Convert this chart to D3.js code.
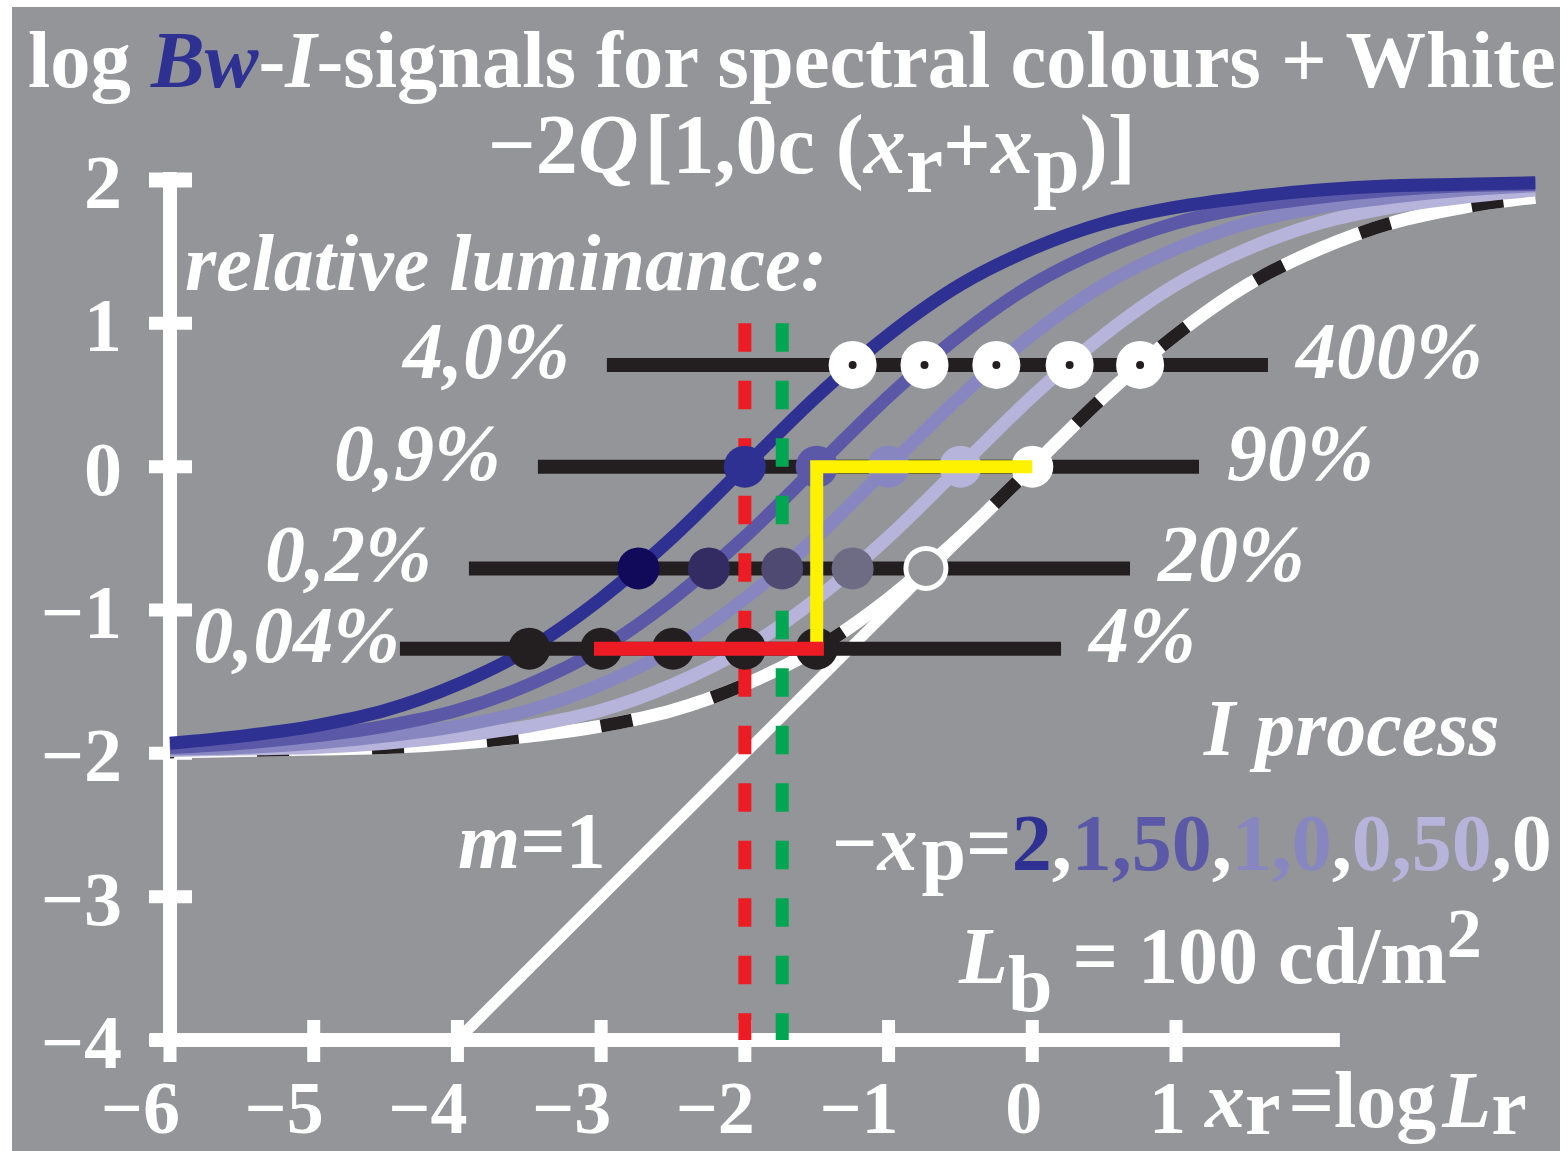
<!DOCTYPE html>
<html>
<head>
<meta charset="utf-8">
<script src="https://cdn.jsdelivr.net/npm/d3@7"></script>
<style>
  body { margin: 0; background: #fff; }
  text { font-family: "Liberation Serif", "Times New Roman", serif; fill: #fff; }
</style>
</head>
<body>
<div id="chart"></div>
<script>
const WIDTH = 1567;
const HEIGHT = 1151;
const BG = "#939598";

// axis ticks
const xTicks = [-6, -5, -4, -3, -2, -1, 0, 1];
const yTicks = [-4, -3, -2, -1, 0, 1, 2];

// white (xp = 0) curve, other curves are the same curve shifted
const baseX = [-6, -5.5, -5, -4.5, -4, -3.5, -3, -2.5, -2, -1.5, -1, -0.5, 0,
               0.5, 1, 1.5, 2, 2.5, 3, 3.5, 4, 4.5, 5, 5.5];
const baseY = [-1.99, -1.98, -1.97, -1.96, -1.93, -1.88, -1.81, -1.70, -1.52, -1.27, -0.92, -0.49, 0,
               0.49, 0.92, 1.27, 1.52, 1.70, 1.81, 1.88, 1.93, 1.96, 1.97, 1.98];
const shifts = [2, 1.5, 1, 0.5, 0];
const curveColors = ["#2e3192", "#5b59a7", "#8886c0", "#b6b4da", "#ffffff"];

// horizontal luminance rows
const rowY = [0.71, 0, -0.71, -1.27];
const rowStart = [-2.96, -3.44, -3.92, -4.40];
const rowEnd = [1.64, 1.16, 0.68, 0.20];
const rowLeftLabels = ["4,0%", "0,9%", "0,2%", "0,04%"];
const rowLeftLabelX = [-3.22, -3.70, -4.18, -4.40];
const rowRightLabels = ["400%", "90%", "20%", "4%"];
const rowPointX = [
    [-1.25, -0.75, -0.25, 0.26, 0.75],
    [-2, -1.5, -1, -0.5, 0],
    [-2.74, -2.25, -1.74, -1.25, -0.74],
    [-3.5, -3, -2.5, -2, -1.5]
];
const rowPointColors = [
    ["dot", "dot", "dot", "dot", "dot"],
    ["#2e3192", "#5b59a7", "#8886c0", "#b6b4da", "#ffffff"],
    ["#11095a", "#332c62", "#4e4a72", "#6e6b85", "ring"],
    ["#231f20", "#231f20", "#231f20", "#231f20", "#231f20"]
];

// m=1 line and markers
const lineX = [-4, -0.45];
const redDashX = -2;
const greenDashX = -1.74;
const dashYRange = [1, -4];
const redSolidX = [-3.05, -1.45];
const redSolidY = -1.27;
const yellowX = [-1.5, -1.5, 0];
const yellowY = [-1.27, 0, 0];

var svg = d3.select("#chart")
    .append("svg")
    .attr("width", WIDTH)
    .attr("height", HEIGHT);

svg.append("rect")
    .attr("x", 12).attr("y", 7)
    .attr("width", 1548).attr("height", 1144)
    .attr("fill", BG);

var x_scale = d3.scaleLinear().domain([-6, 1]).range([170, 1176]);
var y_scale = d3.scaleLinear().domain([-4, 2]).range([1040, 180]);

// axes
svg.append("line")
    .attr("x1", 150).attr("x2", x_scale(2.14))
    .attr("y1", y_scale(-4)).attr("y2", y_scale(-4))
    .attr("stroke", "#fff").attr("stroke-width", 14);
svg.append("line")
    .attr("x1", x_scale(-6)).attr("x2", x_scale(-6))
    .attr("y1", y_scale(2) - 8).attr("y2", y_scale(-4))
    .attr("stroke", "#fff").attr("stroke-width", 14);

svg.selectAll(".xtick")
    .data(xTicks)
    .enter()
    .append("line")
    .attr("class", "xtick")
    .attr("x1", d => x_scale(d)).attr("x2", d => x_scale(d))
    .attr("y1", 1020).attr("y2", 1062)
    .attr("stroke", "#fff").attr("stroke-width", 13);

svg.selectAll(".ytick")
    .data(yTicks)
    .enter()
    .append("line")
    .attr("class", "ytick")
    .attr("x1", 149).attr("x2", 192)
    .attr("y1", d => y_scale(d)).attr("y2", d => y_scale(d))
    .attr("stroke", "#fff").attr("stroke-width", d => d === 2 ? 15 : 13);

function fmt(d) {
    return d < 0 ? "\u2212" + Math.abs(d) : String(d);
}

svg.selectAll(".xlabel")
    .data(xTicks)
    .enter()
    .append("text")
    .attr("class", "xlabel")
    .attr("x", d => x_scale(d) + 10)
    .attr("y", 1133)
    .attr("text-anchor", "end")
    .attr("font-size", 74)
    .attr("font-weight", "bold")
    .text(fmt);

svg.selectAll(".ylabel")
    .data(yTicks)
    .enter()
    .append("text")
    .attr("class", "ylabel")
    .attr("x", 122)
    .attr("y", d => y_scale(d) + 28)
    .attr("text-anchor", "end")
    .attr("font-size", 76)
    .attr("font-weight", "bold")
    .text(fmt);

// curves
var line = d3.line()
    .x(d => x_scale(d[0]))
    .y(d => y_scale(d[1]))
    .curve(d3.curveMonotoneX);

function curvePoints(s) {
    var pts = [];
    baseX.forEach((bx, i) => {
        var xr = bx - s;
        if (xr >= -6 && xr <= 3.5) pts.push([xr, baseY[i]]);
    });
    return pts;
}

// white curve with black dashes drawn first, blue last (on top)
for (var k = shifts.length - 1; k >= 0; k--) {
    var pts = curvePoints(shifts[k]);
    svg.append("path")
        .attr("d", line(pts))
        .attr("fill", "none")
        .attr("stroke", curveColors[k])
        .attr("stroke-width", 13);
    if (k === shifts.length - 1) {
        svg.append("path")
            .attr("d", line(pts))
            .attr("fill", "none")
            .attr("stroke", "#231f20")
            .attr("stroke-width", 13)
            .attr("stroke-dasharray", "32 83")
            .attr("stroke-dashoffset", 28);
        // m=1 straight line
        svg.append("line")
            .attr("x1", x_scale(lineX[0])).attr("y1", y_scale(lineX[0]))
            .attr("x2", x_scale(lineX[1])).attr("y2", y_scale(lineX[1]))
            .attr("stroke", "#fff").attr("stroke-width", 11);
    }
}

// luminance rows
svg.selectAll(".row")
    .data(rowY)
    .enter()
    .append("line")
    .attr("class", "row")
    .attr("x1", (d, i) => x_scale(rowStart[i]))
    .attr("x2", (d, i) => x_scale(rowEnd[i]))
    .attr("y1", d => y_scale(d)).attr("y2", d => y_scale(d))
    .attr("stroke", "#231f20").attr("stroke-width", 14);

// dashed verticals
[[redDashX, "#ed1c24"], [greenDashX, "#00a651"]].forEach(v => {
    svg.append("line")
        .attr("x1", x_scale(v[0])).attr("x2", x_scale(v[0]))
        .attr("y1", y_scale(dashYRange[0])).attr("y2", y_scale(dashYRange[1]))
        .attr("stroke", v[1]).attr("stroke-width", 13)
        .attr("stroke-dasharray", "28.5 29");
});

// points on rows
rowY.forEach((ry, r) => {
    rowPointX[r].forEach((px, j) => {
        var c = rowPointColors[r][j];
        var cx = x_scale(px), cy = y_scale(ry);
        if (c === "dot") {
            svg.append("circle").attr("cx", cx).attr("cy", cy).attr("r", 24).attr("fill", "#fff");
            svg.append("circle").attr("cx", cx).attr("cy", cy).attr("r", 4).attr("fill", "#231f20");
        } else if (c === "ring") {
            svg.append("circle").attr("cx", cx).attr("cy", cy).attr("r", 20)
                .attr("fill", BG).attr("stroke", "#fff").attr("stroke-width", 5);
        } else {
            svg.append("circle").attr("cx", cx).attr("cy", cy).attr("r", 21).attr("fill", c);
        }
    });
});

// yellow and red guides
svg.append("path")
    .attr("d", d3.line()(yellowX.map((v, i) => [x_scale(v), y_scale(yellowY[i])])))
    .attr("fill", "none")
    .attr("stroke", "#fff200")
    .attr("stroke-width", 13);
svg.append("line")
    .attr("x1", x_scale(redSolidX[0])).attr("x2", x_scale(redSolidX[1]))
    .attr("y1", y_scale(redSolidY)).attr("y2", y_scale(redSolidY))
    .attr("stroke", "#ed1c24").attr("stroke-width", 14);

// row labels
svg.selectAll(".lleft")
    .data(rowLeftLabels)
    .enter()
    .append("text")
    .attr("class", "lleft")
    .attr("x", (d, i) => x_scale(rowLeftLabelX[i]))
    .attr("y", (d, i) => y_scale(rowY[i]) + 13)
    .attr("text-anchor", "end")
    .attr("font-size", 80)
    .attr("font-weight", "bold")
    .attr("font-style", "italic")
    .text(d => d);

svg.selectAll(".lright")
    .data(rowRightLabels)
    .enter()
    .append("text")
    .attr("class", "lright")
    .attr("x", (d, i) => x_scale(rowEnd[i]) + 28)
    .attr("y", (d, i) => y_scale(rowY[i]) + 13)
    .attr("font-size", 80)
    .attr("font-weight", "bold")
    .attr("font-style", "italic")
    .text(d => d);

// title
var t1 = svg.append("text")
    .attr("x", 28).attr("y", 87)
    .attr("font-size", 80.5).attr("font-weight", "bold");
t1.append("tspan").text("log ");
t1.append("tspan").attr("font-style", "italic").style("fill", "#2e3192").text("Bw");
t1.append("tspan").text("-");
t1.append("tspan").attr("font-style", "italic").text("I");
t1.append("tspan").text("-signals for spectral colours + White");

var t2 = svg.append("text")
    .attr("x", 488).attr("y", 173)
    .attr("font-size", 84).attr("font-weight", "bold");
t2.append("tspan").text("\u22122");
t2.append("tspan").attr("font-style", "italic").text("Q");
t2.append("tspan").attr("dx", 6).text("[1,0c (");
t2.append("tspan").attr("font-style", "italic").text("x");
t2.append("tspan").attr("dy", 19).text("r");
t2.append("tspan").attr("dy", -19).text("+");
t2.append("tspan").attr("font-style", "italic").text("x");
t2.append("tspan").attr("dy", 19).text("p");
t2.append("tspan").attr("dy", -19).text(")]");

svg.append("text")
    .attr("x", 185).attr("y", 290)
    .attr("font-size", 80).attr("font-weight", "bold").attr("font-style", "italic")
    .text("relative luminance:");

svg.append("text")
    .attr("x", 1204).attr("y", 755)
    .attr("font-size", 80).attr("font-weight", "bold").attr("font-style", "italic")
    .text("I process");

var m1 = svg.append("text")
    .attr("x", 458).attr("y", 868)
    .attr("font-size", 80).attr("font-weight", "bold");
m1.append("tspan").attr("font-style", "italic").text("m");
m1.append("tspan").text("=1");

// -xp legend, coloured like the curves
const xpParts = ["2", ",", "1,50", ",", "1,0", ",", "0,50", ",", "0"];
const xpColors = [curveColors[0], "#fff", curveColors[1], "#fff", curveColors[2], "#fff", curveColors[3], "#fff", "#fff"];
var xp = svg.append("text")
    .attr("x", 832).attr("y", 870)
    .attr("font-size", 80).attr("font-weight", "bold");
xp.append("tspan").text("\u2212");
xp.append("tspan").attr("font-style", "italic").text("x");
xp.append("tspan").attr("dy", 9).attr("dx", 4).text("p");
xp.append("tspan").attr("dy", -9).text("=");
xpParts.forEach((p, i) => {
    xp.append("tspan").style("fill", xpColors[i]).text(p);
});

var lb = svg.append("text")
    .attr("x", 959).attr("y", 983)
    .attr("font-size", 80).attr("font-weight", "bold");
lb.append("tspan").attr("font-style", "italic").text("L");
lb.append("tspan").attr("dy", 28).text("b");
lb.append("tspan").attr("dy", -28).text(" = 100 cd/m");
lb.append("tspan").attr("dy", -26).attr("font-size", 70).text("2");

var xl = svg.append("text")
    .attr("x", 1205).attr("y", 1127)
    .attr("font-size", 80).attr("font-weight", "bold");
xl.append("tspan").attr("font-style", "italic").text("x");
xl.append("tspan").attr("dy", 7).text("r");
xl.append("tspan").attr("dy", -7).attr("dx", 8).text("=log");
xl.append("tspan").attr("font-style", "italic").attr("dx", 6).text("L");
xl.append("tspan").attr("dy", 7).text("r");
</script>
</body>
</html>
